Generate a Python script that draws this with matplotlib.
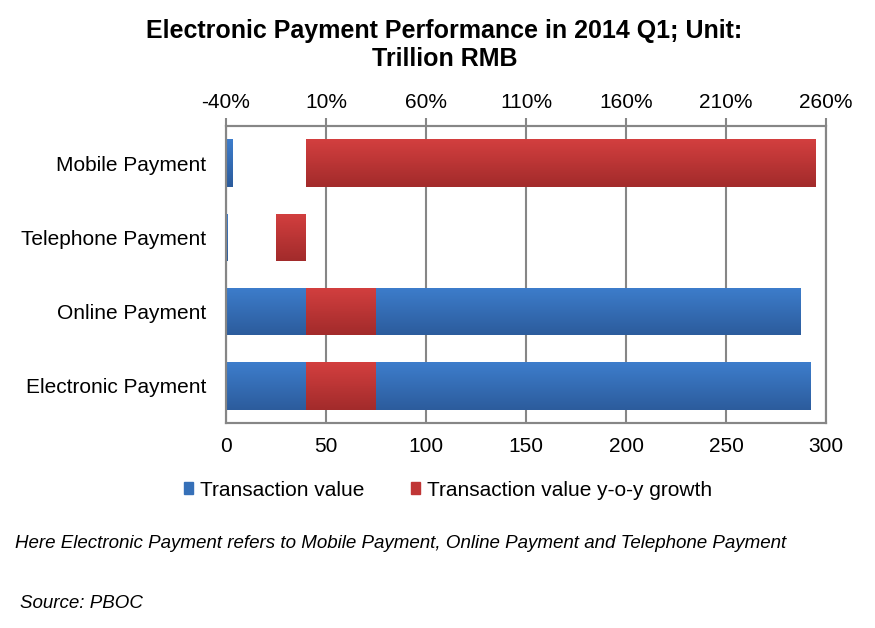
import matplotlib.pyplot as plt
import numpy as np
from matplotlib.patches import Patch
from matplotlib.colors import LinearSegmentedColormap

plt.rcParams['font.family'] = ['Liberation Sans', 'DejaVu Sans']

categories = ['Mobile Payment', 'Telephone Payment', 'Online Payment', 'Electronic Payment']
value = [3.3, 0.9, 287.4, 292.3]          # trillion RMB
growth = [255.0, -15.0, 34.9, 34.6]       # y-o-y growth, %

value_ticks = [0, 50, 100, 150, 200, 250, 300]
growth_ticks = [-40, 10, 60, 110, 160, 210, 260]

blue_cmap = LinearSegmentedColormap.from_list('b', ['#3d7dcc', '#2c5c9c'])
red_cmap = LinearSegmentedColormap.from_list('r', ['#d33f3f', '#a22b2b'])
grid_col = '#868686'


def shade(ax, bars, cmap):
    # vertical gradient clipped to each bar, light on top
    grad = np.linspace(0, 1, 64).reshape(-1, 1)
    for b in bars:
        x0, y0 = b.get_x(), b.get_y()
        w, h = b.get_width(), b.get_height()
        im = ax.imshow(grad, cmap=cmap, aspect='auto', origin='upper',
                       extent=[x0, x0 + w, y0 + h, y0], zorder=b.get_zorder() + 0.1)
        im.set_clip_path(b)


fig = plt.figure(figsize=(8.75, 6.28), dpi=100)
ax = fig.add_axes([0.2583, 0.3264, 0.6857, 0.473])
ypos = np.arange(len(categories))

bars_v = ax.barh(ypos, value, height=0.64, color='#3670b8', zorder=2)
ax.set_xlim(0, 300)
ax.set_ylim(3.5, -0.5)
shade(ax, bars_v, blue_cmap)
ax.set_xticks(value_ticks)
ax.set_yticks(ypos)
ax.set_yticklabels(categories)
ax.grid(axis='x', color=grid_col, linewidth=1.5, zorder=0)
ax.set_axisbelow(True)
ax.tick_params(axis='x', length=0, pad=10, labelsize=15)
ax.tick_params(axis='y', length=0, pad=14, labelsize=15)
for s in ax.spines.values():
    s.set_color(grid_col)
    s.set_linewidth(1.5)

ax2 = ax.twiny()
bars_g = ax2.barh(ypos, growth, left=0, height=0.64, color='#c03636', zorder=3)
ax2.set_xlim(-40, 260)
ax2.set_ylim(3.5, -0.5)
shade(ax2, bars_g, red_cmap)
ax2.set_xticks(growth_ticks)
ax2.set_xticklabels([f'{t}%' for t in growth_ticks])
ax2.tick_params(axis='x', length=6, width=1.5, color=grid_col, pad=4, labelsize=15)
for s in ax2.spines.values():
    s.set_color(grid_col)
    s.set_linewidth(1.5)

fig.text(0.508, 1 - 45 / 628, 'Electronic Payment Performance in 2014 Q1; Unit:\nTrillion RMB',
         ha='center', va='center', fontsize=18, fontweight='bold', linespacing=1.25)

handles = [Patch(color='#3670b8', label='Transaction value'),
           Patch(color='#c03636', label='Transaction value y-o-y growth')]
fig.legend(handles=handles, loc='center', bbox_to_anchor=(0.512, 1 - 490 / 628), ncol=2,
           frameon=False, fontsize=15, handlelength=0.45, handleheight=0.5,
           handletextpad=0.35, columnspacing=2.2)

fig.text(15 / 875, 1 - 543 / 628,
         'Here Electronic Payment refers to Mobile Payment, Online Payment and Telephone Payment',
         ha='left', va='center', fontsize=13.5, style='italic')
fig.text(20 / 875, 1 - 603 / 628, 'Source: PBOC', ha='left', va='center', fontsize=13.5,
         style='italic')

fig.savefig('out.png', dpi=100)
